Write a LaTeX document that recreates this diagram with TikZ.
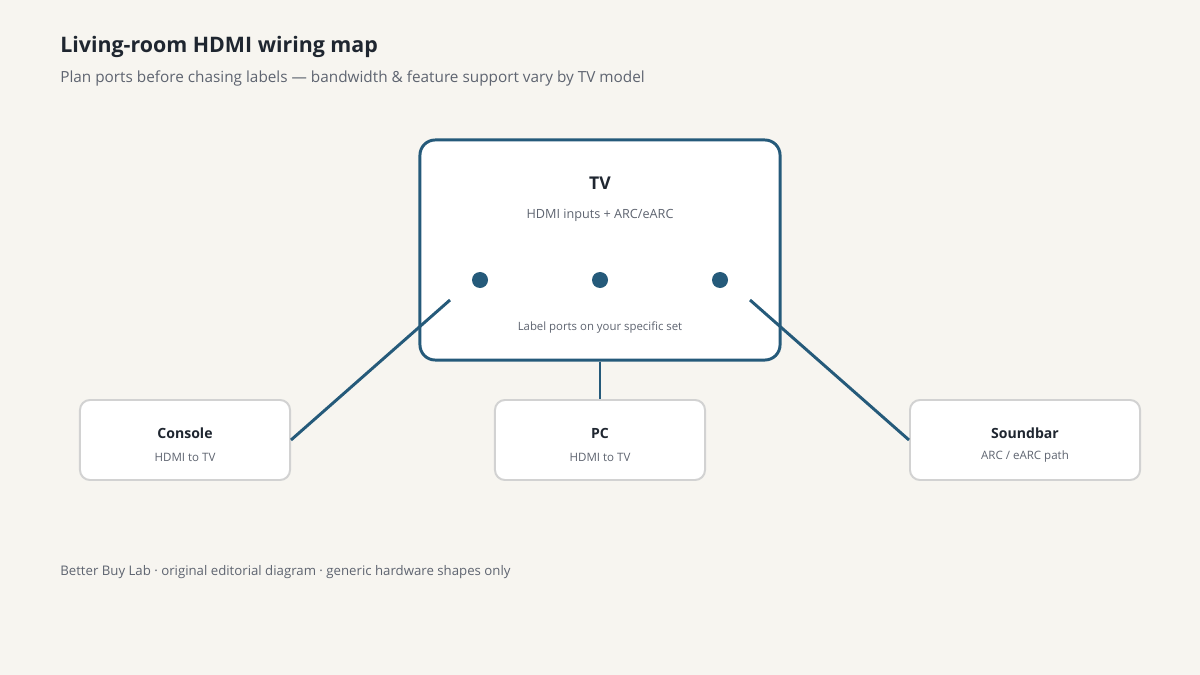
\documentclass[tikz,border=0pt]{standalone}
\usepackage{fontspec}
\setmainfont{Open Sans}
\usepackage{tikz}
\usetikzlibrary{positioning,calc}
\usepackage{xcolor}

\definecolor{bgcream}{HTML}{F7F5F0}
\definecolor{wireblue}{HTML}{255A7A}
\definecolor{inkdark}{HTML}{1F2630}
\definecolor{inkgray}{HTML}{5E6470}
\definecolor{boxgray}{HTML}{D2D2D2}

\begin{document}
\begin{tikzpicture}[
    x=0.025cm, y=-0.025cm,
    device/.style={rectangle, rounded corners=0.25cm, draw=boxgray, line width=1.4pt, fill=white, minimum height=2cm},
    devname/.style={font=\fontsize{10}{12}\selectfont\bfseries, text=inkdark},
    devnote/.style={font=\fontsize{8.2}{10}\selectfont, text=inkgray},
    port/.style={circle, fill=wireblue, inner sep=0pt, minimum size=0.4cm},
    wire/.style={draw=wireblue, line width=2.1pt}
]
    \fill[bgcream] (0,0) rectangle (1200,675);
    \useasboundingbox (0,0) rectangle (1200,675);

    % Heading
    \node[font=\fontsize{15.2}{17}\selectfont\bfseries, text=inkdark, anchor=west, inner sep=0pt] (title) at (60,47) {Living-room HDMI wiring map};
    \node[font=\fontsize{10.9}{12}\selectfont, text=inkgray, anchor=west, inner sep=0pt] (subtitle) at (60,78) {Plan ports before chasing labels — bandwidth \& feature support vary by TV model};

    % TV
    \node[rectangle, rounded corners=0.38cm, draw=wireblue, line width=2.1pt, fill=white, minimum width=9cm, minimum height=5.5cm] (tv) at (600,250) {};
    \node[font=\fontsize{12.5}{15}\selectfont\bfseries, text=inkdark] (tvname) at (600,183) {TV};
    \node[font=\fontsize{9}{11}\selectfont, text=inkgray] (tvnote) at (600,215) {HDMI inputs + ARC/eARC};
    \node[port] (portA) at (480,280) {};
    \node[port] (portB) at (600,280) {};
    \node[port] (portC) at (720,280) {};
    \node[font=\fontsize{8.1}{10}\selectfont, text=inkgray] (tvhint) at (600,328) {Label ports on your specific set};
    \coordinate (leftexit) at (450,300);
    \coordinate (rightexit) at (750,300);

    % Devices
    \node[device, minimum width=5.25cm] (console) at (185,440) {};
    \node[devname] at (185,433) {Console};
    \node[devnote] at (185,457) {HDMI to TV};

    \node[device, minimum width=5.25cm] (pc) at (600,440) {};
    \node[devname] at (600,433) {PC};
    \node[devnote] at (600,457) {HDMI to TV};

    \node[device, minimum width=5.75cm] (soundbar) at (1025,440) {};
    \node[devname] at (1025,433) {Soundbar};
    \node[devnote] at (1025,457) {ARC / eARC path};

    % Cables
    \draw[wire] (leftexit) -- (console.east);
    \draw[wire] (tv.south) -- (pc.north);
    \draw[wire] (rightexit) -- (soundbar.west);

    \node[font=\fontsize{9.4}{11}\selectfont, text=inkgray, anchor=west, inner sep=0pt] (footer) at (60,572) {Better Buy Lab · original editorial diagram · generic hardware shapes only};
\end{tikzpicture}
\end{document}
